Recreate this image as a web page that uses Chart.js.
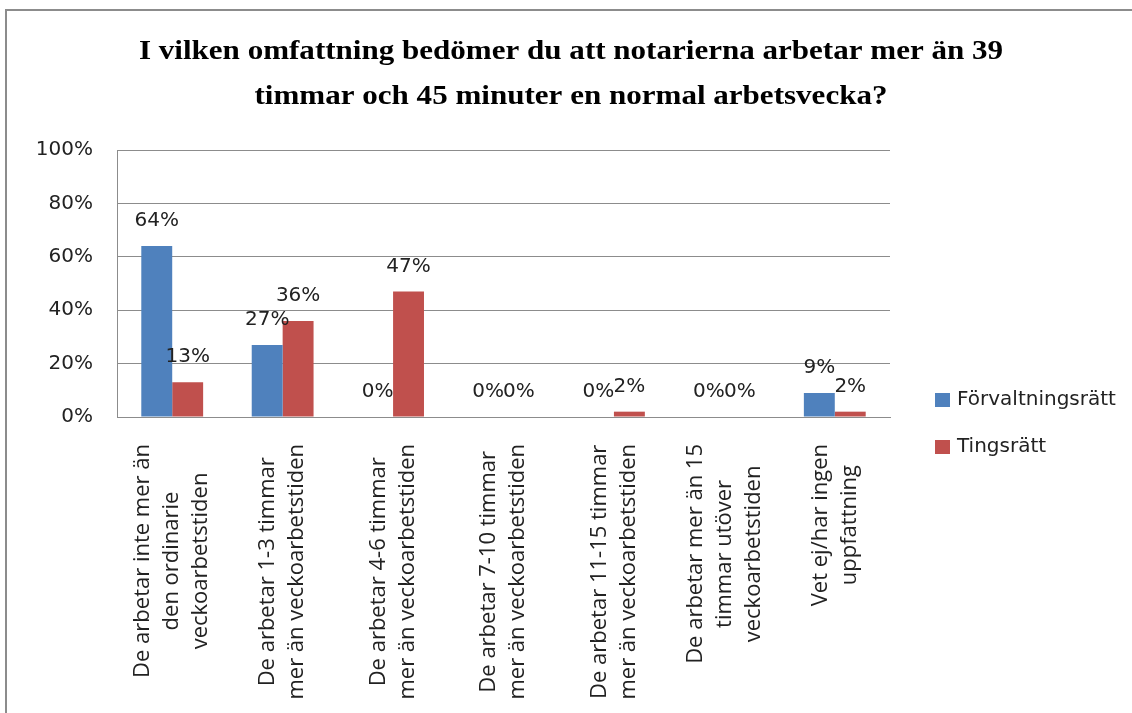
<!DOCTYPE html>
<html>
<head>
<meta charset="utf-8">
<script src="https://cdn.jsdelivr.net/npm/chart.js@4.4.0/dist/chart.umd.min.js"></script>
<style>
body{margin:0;background:#fff;}
#wrap{position:relative;width:1132px;height:713px;overflow:hidden;}
#frame{position:absolute;left:5px;top:9px;width:1300px;height:900px;border-left:2px solid #8c8c8c;border-top:2px solid #8c8c8c;}
#myChart{position:absolute;left:0;top:0;}
</style>
</head>
<body>
<div id="wrap"><div id="frame"></div><canvas id="myChart"></canvas></div>
<script>
var titleLines = ['I vilken omfattning bedömer du att notarierna arbetar mer än 39', 'timmar och 45 minuter en normal arbetsvecka?'];
var categories = [
  ['De arbetar inte mer än', 'den ordinarie', 'veckoarbetstiden'],
  ['De arbetar 1-3 timmar', 'mer än veckoarbetstiden'],
  ['De arbetar 4-6 timmar', 'mer än veckoarbetstiden'],
  ['De arbetar 7-10 timmar', 'mer än veckoarbetstiden'],
  ['De arbetar 11-15 timmar', 'mer än veckoarbetstiden'],
  ['De arbetar mer än 15', 'timmar utöver', 'veckoarbetstiden'],
  ['Vet ej/har ingen', 'uppfattning']
];
var seriesNames = ['Förvaltningsrätt', 'Tingsrätt'];
var forvaltning = [64, 27, 0, 0, 0, 0, 9];
var tingsratt = [13, 36, 47, 0, 2, 0, 2];
var yTicks = [0, 20, 40, 60, 80, 100];

var textFont = "20px 'DejaVu Sans'";
Chart.defaults.font.family = "'DejaVu Sans', sans-serif";
Chart.defaults.color = '#222';

// title, a bit wider than the plain font
var wideTitle = {
  id: 'wideTitle',
  afterDraw: function(chart){
    var ctx = chart.ctx;
    ctx.save();
    ctx.font = "bold 27px 'Liberation Serif'";
    ctx.fillStyle = '#000';
    ctx.textAlign = 'center';
    ctx.textBaseline = 'middle';
    titleLines.forEach(function(t, i){
      ctx.save();
      ctx.translate(571, 52 + i * 45);
      ctx.scale(1.15, 1);
      ctx.fillText(t, 0, 0);
      ctx.restore();
    });
    ctx.restore();
  }
};

// value labels above each bar
var valueLabels = {
  id: 'valueLabels',
  afterDatasetsDraw: function(chart){
    var ctx = chart.ctx;
    ctx.save();
    ctx.font = textFont;
    ctx.fillStyle = '#222';
    ctx.textAlign = 'center';
    ctx.textBaseline = 'middle';
    chart.data.datasets.forEach(function(ds, d){
      chart.getDatasetMeta(d).data.forEach(function(el, i){
        ctx.fillText(ds.data[i] + '%', el.x, el.y - 25);
      });
    });
    ctx.restore();
  }
};

// rotated category labels, lines centred on each other
var catLabels = {
  id: 'catLabels',
  afterDraw: function(chart){
    var ctx = chart.ctx, xs = chart.scales.x, area = chart.chartArea;
    var lh = 29;
    ctx.save();
    ctx.font = "22px 'Open Sans'";
    ctx.fillStyle = '#222';
    ctx.textAlign = 'center';
    ctx.textBaseline = 'middle';
    categories.forEach(function(lines, i){
      var cx = xs.getPixelForValue(i);
      var maxW = 0;
      lines.forEach(function(t){ maxW = Math.max(maxW, ctx.measureText(t).width); });
      var cy = area.bottom + 27 + maxW / 2;
      lines.forEach(function(t, j){
        var x = cx + (j - (lines.length - 1) / 2) * lh;
        ctx.save();
        ctx.translate(x, cy);
        ctx.rotate(-Math.PI / 2);
        ctx.fillText(t, 0, 0);
        ctx.restore();
      });
    });
    ctx.restore();
  }
};

// legend to the right, below the plot middle
var sideLegend = {
  id: 'sideLegend',
  afterDraw: function(chart){
    var ctx = chart.ctx, area = chart.chartArea;
    ctx.save();
    ctx.font = textFont;
    ctx.textBaseline = 'middle';
    ctx.textAlign = 'left';
    chart.data.datasets.forEach(function(ds, d){
      var y = area.bottom - 17 + d * 47;
      ctx.fillStyle = ds.backgroundColor;
      ctx.fillRect(area.right + 45, y - 7, 15, 14);
      ctx.fillStyle = '#222';
      ctx.fillText(ds.label, area.right + 67, y);
    });
    ctx.restore();
  }
};

var ctx = document.getElementById('myChart');
var myChart = new Chart(ctx, {
  type: 'bar',
  data: {
    labels: categories,
    datasets: [{
      label: seriesNames[0],
      data: forvaltning,
      backgroundColor: '#4f81bd'
    }, {
      label: seriesNames[1],
      data: tingsratt,
      backgroundColor: '#c0504d'
    }]
  },
  options: {
    responsive: true,
    maintainAspectRatio: false,
    animation: false,
    barPercentage: 1,
    categoryPercentage: 0.56,
    layout: { padding: { top: 150, right: 242, left: 0, bottom: 0 } },
    plugins: {
      legend: { display: false },
      tooltip: { enabled: false },
      title: { display: false }
    },
    scales: {
      x: {
        ticks: { display: false },
        grid: { display: false },
        border: { color: '#8c8c8c', width: 1 },
        afterFit: function(scale){ scale.height = 296; }
      },
      y: {
        min: 0,
        max: 100,
        afterBuildTicks: function(scale){ scale.ticks = yTicks.map(function(v){ return {value: v}; }); },
        ticks: {
          padding: 24,
          font: { size: 20 },
          color: '#222',
          callback: function(value){ return value + '%'; }
        },
        grid: { color: '#8c8c8c', drawTicks: false },
        border: { color: '#8c8c8c' },
        afterFit: function(scale){ scale.width = 117; }
      }
    }
  },
  plugins: [wideTitle, valueLabels, catLabels, sideLegend]
});
</script>
</body>
</html>
